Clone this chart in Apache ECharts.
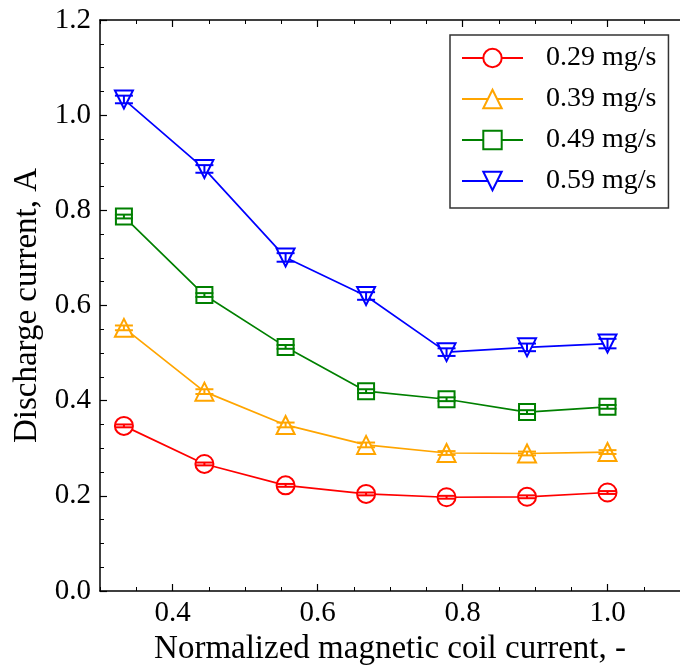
<!DOCTYPE html>
<html>
<head>
<meta charset="utf-8">
<script src="https://cdn.jsdelivr.net/npm/echarts@6/dist/echarts.min.js"></script>
<style>
  html, body { margin: 0; padding: 0; background: #fff; }
  #chart { width: 680px; height: 671px; }
</style>
</head>
<body>
<div id="chart"></div>
<script>
// Normalized magnetic coil current (x positions of every measurement)
const coilCurrent = [0.333, 0.444, 0.556, 0.667, 0.778, 0.889, 1.0];

// Discharge current, A, for each propellant mass flow rate
const names = ['0.29 mg/s', '0.39 mg/s', '0.49 mg/s', '0.59 mg/s'];
const flow029 = [0.347, 0.267, 0.222, 0.204, 0.197, 0.198, 0.207];
const flow039 = [0.553, 0.419, 0.349, 0.307, 0.290, 0.289, 0.292];
const flow049 = [0.787, 0.622, 0.513, 0.420, 0.403, 0.376, 0.387];
const flow059 = [1.033, 0.887, 0.701, 0.620, 0.502, 0.512, 0.520];

// Measurement spread (half height of each error bar), A
const err029 = [0.003, 0.003, 0.003, 0.003, 0.003, 0.003, 0.003];
const err039 = [0.005, 0.005, 0.005, 0.005, 0.004, 0.004, 0.004];
const err049 = [0.004, 0.004, 0.004, 0.004, 0.004, 0.004, 0.004];
const err059 = [0.008, 0.008, 0.009, 0.008, 0.008, 0.008, 0.010];

// Tick positions
const xMajorTicks = [0.4, 0.6, 0.8, 1.0];
const yTicks = [0.0, 0.2, 0.4, 0.6, 0.8, 1.0, 1.2];

const FONT = '"Liberation Serif", "Times New Roman", serif';
const colors = ['#ff0000', '#ffa500', '#008000', '#0000ff'];
const symbols = ['circle', 'triangle', 'rect', 'triangle'];
const rotations = [0, 0, 0, 180];
const sizes = [18, 18, 16, 18];
const values = [flow029, flow039, flow049, flow059];
const errors = [err029, err039, err049, err059];

const pairs = (ys) => coilCurrent.map((x, i) => [x, ys[i]]);

const lineSeries = names.map((name, k) => ({
  name: name,
  type: 'line',
  data: pairs(values[k]),
  symbol: symbols[k],
  symbolSize: sizes[k],
  symbolRotate: rotations[k],
  showAllSymbol: true,
  color: colors[k],
  lineStyle: { color: colors[k], width: 1.7 },
  itemStyle: { color: '#ffffff', borderColor: colors[k], borderWidth: 2 },
  emphasis: { disabled: true },
  z: 3
}));

// Error bars with short caps, drawn above the markers
const errorSeries = names.map((name, k) => ({
  name: 'err ' + name,
  type: 'custom',
  data: coilCurrent.map((x, i) => [x, values[k][i], errors[k][i]]),
  z: 4,
  silent: true,
  renderItem: function (params, api) {
    const x = api.value(0), y = api.value(1), e = api.value(2);
    const hi = api.coord([x, y + e]);
    const lo = api.coord([x, y - e]);
    const cap = 9;
    const style = { stroke: colors[k], lineWidth: 2, fill: null };
    return {
      type: 'group',
      children: [
        { type: 'line', shape: { x1: hi[0], y1: hi[1], x2: lo[0], y2: lo[1] }, style: style },
        { type: 'line', shape: { x1: hi[0] - cap, y1: hi[1], x2: hi[0] + cap, y2: hi[1] }, style: style },
        { type: 'line', shape: { x1: lo[0] - cap, y1: lo[1], x2: lo[0] + cap, y2: lo[1] }, style: style }
      ]
    };
  }
}));

const axisLine = { show: true, onZero: false, lineStyle: { color: '#000', width: 1.5 } };

const chart = echarts.init(document.getElementById('chart'), null, { renderer: 'canvas' });
chart.setOption({
  animation: false,
  backgroundColor: '#ffffff',
  grid: { left: 100, top: 20, width: 587, height: 572, containLabel: false },
  xAxis: [
    { // bottom axis: labels, major ticks, title
      type: 'value', position: 'bottom', min: 0.3, max: 1.1,
      axisLine: axisLine,
      axisTick: { show: true, inside: true, length: 7, customValues: xMajorTicks,
                  lineStyle: { color: '#000', width: 1.2 } },
      axisLabel: { show: true, customValues: xMajorTicks, margin: 8,
                   formatter: (v) => v.toFixed(1),
                   fontFamily: FONT, fontSize: 29, color: '#000' },
      splitLine: { show: false },
      name: 'Normalized magnetic coil current, -',
      nameLocation: 'middle', nameGap: 42,
      nameTextStyle: { fontFamily: FONT, fontSize: 33, color: '#000' }
    },
    { // bottom axis: minor ticks
      type: 'value', position: 'bottom', min: 0.3, max: 1.1, interval: 0.05,
      axisLine: { show: false },
      axisTick: { show: true, inside: true, length: 4, lineStyle: { color: '#000', width: 1 } },
      axisLabel: { show: false }, splitLine: { show: false }
    },
    { // top spine: major ticks
      type: 'value', position: 'top', min: 0.3, max: 1.1,
      axisLine: axisLine,
      axisTick: { show: true, inside: true, length: 7, customValues: xMajorTicks,
                  lineStyle: { color: '#000', width: 1.2 } },
      axisLabel: { show: false }, splitLine: { show: false }
    },
    { // top spine: minor ticks
      type: 'value', position: 'top', min: 0.3, max: 1.1, interval: 0.05,
      axisLine: { show: false },
      axisTick: { show: true, inside: true, length: 4, lineStyle: { color: '#000', width: 1 } },
      axisLabel: { show: false }, splitLine: { show: false }
    }
  ],
  yAxis: [
    {
      type: 'value', position: 'left', min: yTicks[0], max: yTicks[yTicks.length - 1], interval: 0.2,
      axisLine: axisLine,
      axisTick: { show: true, inside: true, length: 7, lineStyle: { color: '#000', width: 1.2 } },
      minorTick: { show: true, splitNumber: 4, length: 4, lineStyle: { color: '#000', width: 1 } },
      axisLabel: { margin: 9, formatter: (v) => v.toFixed(1),
                   fontFamily: FONT, fontSize: 29, color: '#000' },
      splitLine: { show: false },
      name: 'Discharge current, A',
      nameLocation: 'middle', nameGap: 48, nameRotate: 90,
      nameTextStyle: { fontFamily: FONT, fontSize: 33, color: '#000' }
    }
  ],
  legend: {
    orient: 'vertical',
    left: 450, top: 35,
    padding: [8, 12, 12, 11],
    itemWidth: 61, itemHeight: 23, itemGap: 11,
    backgroundColor: '#ffffff',
    borderColor: '#333333', borderWidth: 1.5, borderRadius: 0,
    selectedMode: false,
    data: names,
    textStyle: { fontFamily: FONT, fontSize: 28, color: '#000', lineHeight: 30, padding: [0, 0, 0, 18] }
  },
  series: lineSeries.concat(errorSeries)
});
</script>
</body>
</html>
